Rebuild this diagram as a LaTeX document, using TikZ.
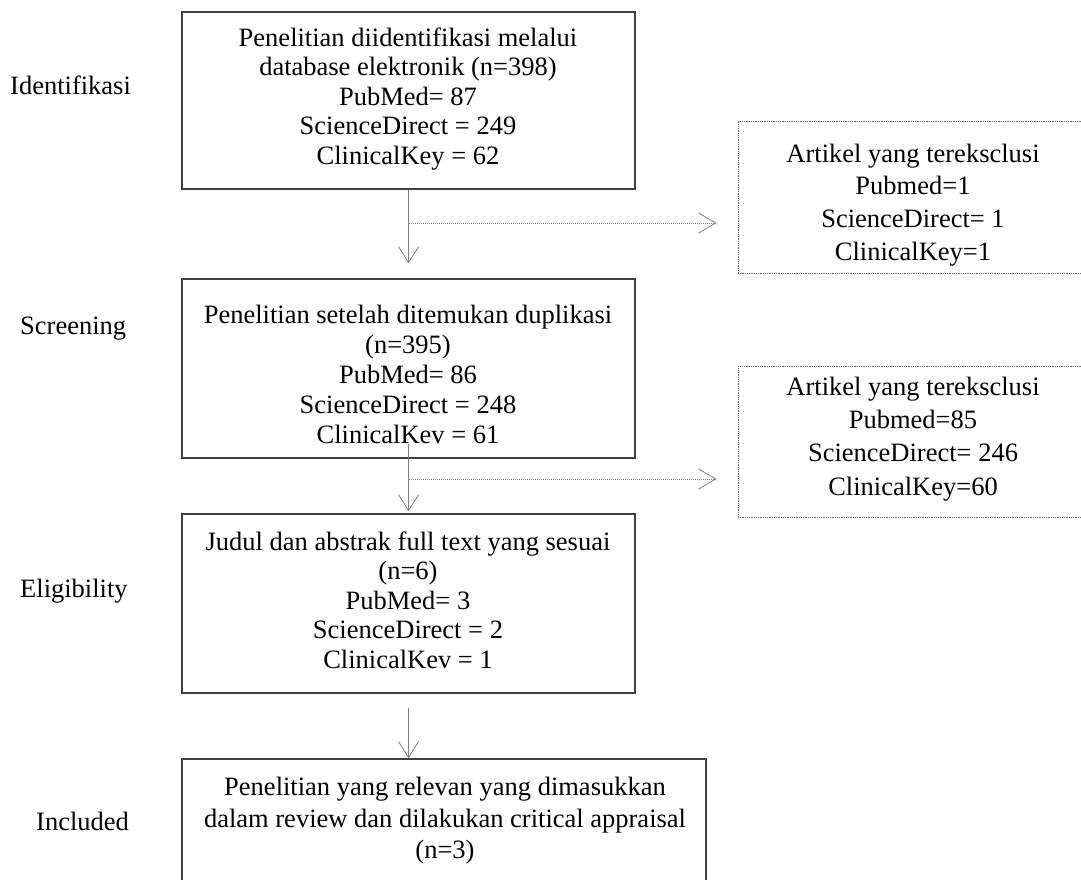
\documentclass[tikz,border=0pt]{standalone}
\usepackage{fontspec}
\setmainfont{Liberation Serif}
\usetikzlibrary{arrows.meta}
\begin{document}
\begin{tikzpicture}[x=1pt,y=-1pt,
  mainbox/.style={draw=black!75, line width=1.3pt, minimum width=453pt, inner sep=0pt},
  sidebox/.style={draw=black!60, line width=1pt, dash pattern=on 1pt off 0.8pt, minimum width=350pt, minimum height=151pt, inner sep=0pt},
  txt/.style={font=\fontsize{26.5}{29.5}\selectfont, align=center, inner sep=0pt},
  vline/.style={draw=black!50, line width=1pt, -{Straight Barb[length=16pt,width=20pt,line width=0.8pt]}},
  hline/.style={draw=black!50, line width=1pt, dash pattern=on 1pt off 1pt, -{Straight Barb[length=17pt,width=20pt,line width=0.8pt]}},
  lab/.style={font=\fontsize{26.5}{30}\selectfont, anchor=base west, inner sep=0pt}]
\useasboundingbox (0,0) rectangle (1081,880);
\fill[white] (0,0) rectangle (1081,880);

% main boxes
\node[mainbox, minimum height=177pt] (b1) at (408.5,100.5) {};
\node[mainbox, minimum height=179pt] (b2) at (408.5,368.5) {};
\node[mainbox, minimum height=179pt] (b3) at (408.5,603.5) {};
\node[mainbox, minimum width=524pt, minimum height=140pt] (b4) at (444,829) {};

\node[txt, font=\fontsize{26.5}{29.5}\selectfont] (t1) at (408,99) {Penelitian diidentifikasi melalui\\database elektronik (n=398)\\PubMed= 87\\ScienceDirect = 249\\ClinicalKey = 62};
\node[txt, font=\fontsize{26.5}{30}\selectfont] (t2) at (408,374) {Penelitian setelah ditemukan duplikasi\\(n=395)\\PubMed= 86\\ScienceDirect = 248\\ClinicalKev = 61};
\node[txt] (t3) at (408,600) {Judul dan abstrak full text yang sesuai\\(n=6)\\PubMed= 3\\ScienceDirect = 2\\ClinicalKev = 1};
\node[txt, font=\fontsize{26.5}{31.5}\selectfont] (t4) at (445,821) {Penelitian yang relevan yang dimasukkan\\dalam review dan dilakukan critical appraisal\\(n=3)};

% side boxes
\node[sidebox] (r1) at (913,197.5) {};
\node[sidebox] (r2) at (913,441.5) {};
\node[txt, font=\fontsize{26.5}{32.7}\selectfont] (s1) at (913,205) {Artikel yang tereksclusi\\Pubmed=1\\ScienceDirect= 1\\ClinicalKey=1};
\node[txt, font=\fontsize{26.5}{33.3}\selectfont] (s2) at (913,439) {Artikel yang tereksclusi\\Pubmed=85\\ScienceDirect= 246\\ClinicalKey=60};

% stage labels
\node[lab] (l1) at (10,95) {Identifikasi};
\node[lab] (l2) at (20,334) {Screening};
\node[lab] (l3) at (20,597) {Eligibility};
\node[lab] (l4) at (36,830) {Included};

% vertical arrows
\draw[vline, shorten >=15pt] (b1.south) -- (b2.north);
\draw[vline, shorten <=-15pt, shorten >=2pt] (b2.south) -- (b3.north);
\draw[vline, shorten <=14pt] (b3.south) -- (b3.south |- b4.north);

% horizontal exclusion arrows
\coordinate (j1) at (408.5,223);
\coordinate (j2) at (408.5,479);
\draw[hline, shorten >=21pt] (j1) -- (j1 -| r1.west);
\draw[hline, shorten >=21pt] (j2) -- (j2 -| r2.west);
\end{tikzpicture}
\end{document}
